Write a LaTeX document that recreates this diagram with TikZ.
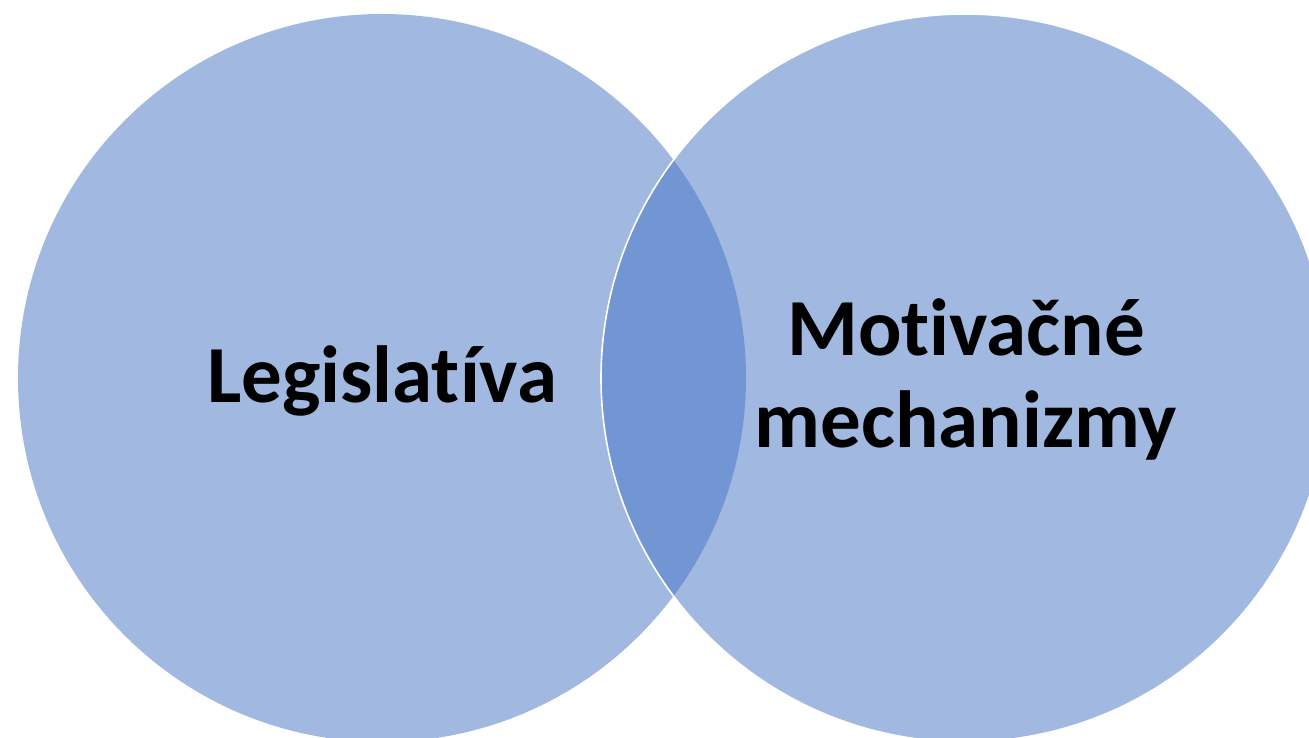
\documentclass[tikz,border=0pt]{standalone}
\usepackage{fontspec}
\setmainfont[Ligatures={NoCommon,NoRare}]{Carlito}
\definecolor{accent}{HTML}{4472C4}
\begin{document}
\begin{tikzpicture}[x=1pt,y=1pt,
  venn/.style={circle, inner sep=0pt, minimum size=728pt, fill=accent, fill opacity=0.5},
  label/.style={font=\fontsize{81}{92}\selectfont\bfseries, text=black, align=center, inner sep=0pt, anchor=base}]
\useasboundingbox (0,0) rectangle (1309,-738);
\clip (0,0) rectangle (1309,-738);
\node[venn, draw=none] (L) at (382,-378) {};
\node[venn, draw=white, line width=1.6pt, draw opacity=1] (R) at (965,-378) {};
\node[label] (tL) at (382,-402) {Legislatíva};
\node[label] (tR) at (966,-447) {Motivačné\\mechanizmy};
\end{tikzpicture}
\end{document}
